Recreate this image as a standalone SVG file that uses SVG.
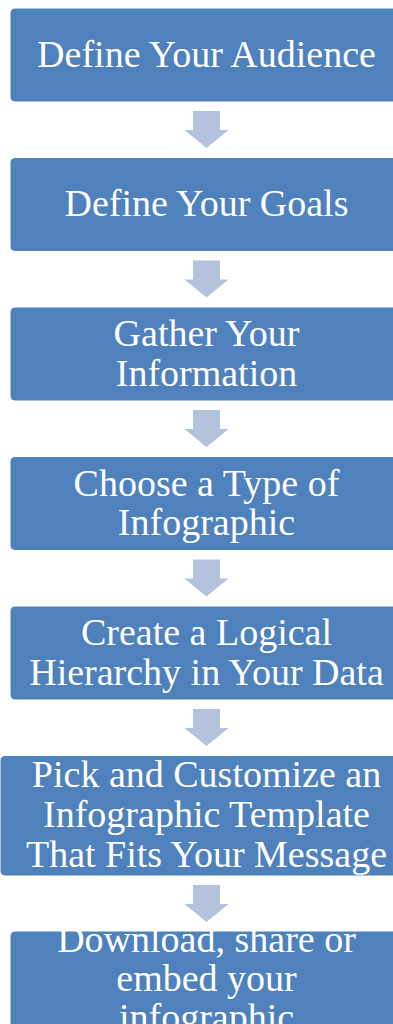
<svg xmlns="http://www.w3.org/2000/svg" width="393" height="1024" viewBox="0 0 393 1024">
<style>
.box{fill:#4F81BD;stroke:#FFFFFF;stroke-width:1}
.t{font-family:"Liberation Serif","Times New Roman",serif;font-size:38px;fill:#FFFFFF;text-anchor:middle}
.arr{fill:#B3C3DE}
</style>
<defs>
<path id="arrow" d="M-13.5,0 H13.5 V19 H22 L0,37 L-22,19 H-13.5 Z"/>
</defs>
<rect width="393" height="1024" fill="#FFFFFF"/>
<g id="connectors">
<use href="#arrow" class="arr" x="206.5" y="111"/>
<use href="#arrow" class="arr" x="206.5" y="260.5"/>
<use href="#arrow" class="arr" x="206.5" y="410"/>
<use href="#arrow" class="arr" x="206.5" y="559.5"/>
<use href="#arrow" class="arr" x="206.5" y="709"/>
<use href="#arrow" class="arr" x="206.5" y="885"/>
</g>
<g id="n1">
<rect class="box" x="10" y="8" width="393" height="94" rx="5"/>
<text class="t" x="206.5" y="67">Define Your Audience</text>
</g>
<g id="n2">
<rect class="box" x="10" y="157.5" width="393" height="94" rx="5"/>
<text class="t" x="206.5" y="216">Define Your Goals</text>
</g>
<g id="n3">
<rect class="box" x="10" y="307" width="393" height="94" rx="5"/>
<text class="t" x="206.5" y="346">Gather Your</text>
<text class="t" x="206.5" y="385.5">Information</text>
</g>
<g id="n4">
<rect class="box" x="10" y="456.5" width="393" height="94" rx="5"/>
<text class="t" x="206.5" y="495.5">Choose a Type of</text>
<text class="t" x="206.5" y="535">Infographic</text>
</g>
<g id="n5">
<rect class="box" x="10" y="606" width="393" height="94" rx="5"/>
<text class="t" x="206.5" y="645">Create a Logical</text>
<text class="t" x="206.5" y="684.5">Hierarchy in Your Data</text>
</g>
<g id="n6">
<rect class="box" x="0" y="755.5" width="413" height="120.5" rx="5"/>
<text class="t" x="206.5" y="787">Pick and Customize an</text>
<text class="t" x="206.5" y="827">Infographic Template</text>
<text class="t" x="206.5" y="867">That Fits Your Message</text>
</g>
<g id="n7">
<rect class="box" x="10" y="931" width="393" height="110" rx="5"/>
<text class="t" x="206.5" y="952">Download, share or</text>
<text class="t" x="206.5" y="991">embed your</text>
<text class="t" x="206.5" y="1030">infographic</text>
</g>
</svg>
